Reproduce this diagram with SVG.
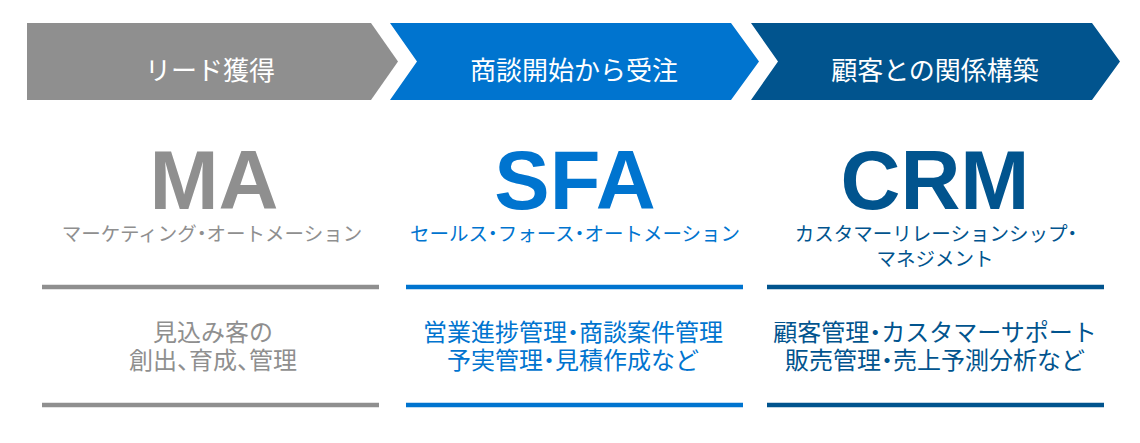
<svg xmlns="http://www.w3.org/2000/svg" width="1140" height="443" viewBox="0 0 1140 443">
<style>
.jp{font-family:"Noto Sans CJK JP","Noto Sans CJK SC",sans-serif;text-anchor:middle}
.hd{font-size:26px;fill:#ffffff}
.big{font-family:"Liberation Sans",Arial,sans-serif;font-weight:bold;font-size:83px;text-anchor:middle}
.sub{font-size:19.5px}
.body{font-size:24px}
.g{fill:#8f8f8f}
.b{fill:#0074cf}
.d{fill:#01548e}
.lg{stroke:#8f8f8f;stroke-width:4.5}
.lb{stroke:#0074cf;stroke-width:4.5}
.ld{stroke:#01548e;stroke-width:4.5}
</style>
<rect width="1140" height="443" fill="#ffffff"/>
<g id="stage-lead">
<polygon class="g" points="27,23 371,23 398,61.5 371,100 27,100"/>
<text class="jp hd" x="210" y="80">リード獲得</text>
</g>
<g id="stage-deal">
<polygon class="b" points="390,23 731,23 759,61.5 731,100 390,100 417,61.5"/>
<text class="jp hd" x="574" y="80">商談開始から受注</text>
</g>
<g id="stage-relation">
<polygon class="d" points="751,23 1092,23 1120,61.5 1092,100 751,100 778,61.5"/>
<text class="jp hd" x="935" y="80">顧客との関係構築</text>
</g>
<g id="ma">
<text class="big g" x="214" y="209">MA</text>
<text class="jp sub g" x="212" y="241" dx="0 0 0 0 0 0 0 -4.9 -4.9">マーケティング・オートメーション</text>
<line class="lg" x1="42" y1="287" x2="379" y2="287"/>
<text class="jp body g" x="213" y="341">見込み客の</text>
<text class="jp body g" x="213" y="369" dx="0 0 0 -12 0 0 -12">創出、育成、管理</text>
<line class="lg" x1="42" y1="405" x2="379" y2="405"/>
</g>
<g id="sfa">
<text class="big b" x="575" y="209">SFA</text>
<text class="jp sub b" x="575" y="241" dx="0 0 0 0 -4.9 -4.9 0 0 0 -4.9 -4.9">セールス・フォース・オートメーション</text>
<line class="lb" x1="406" y1="287" x2="743" y2="287"/>
<text class="jp body b" x="573" y="341" dx="0 0 0 0 0 0 -6 -6">営業進捗管理・商談案件管理</text>
<text class="jp body b" x="573" y="369" dx="0 0 0 0 -6 -6">予実管理・見積作成など</text>
<line class="lb" x1="406" y1="405" x2="743" y2="405"/>
</g>
<g id="crm">
<text class="big d" x="935" y="209">CRM</text>
<text class="jp sub d" x="938.4" y="241" dx="0 0 0 0 0 0 0 0 0 0 0 0 0 0 -4.9">カスタマーリレーションシップ・</text>
<text class="jp sub d" x="935" y="266">マネジメント</text>
<line class="ld" x1="767" y1="287" x2="1104" y2="287"/>
<text class="jp body d" x="935" y="341" dx="0 0 0 0 -6 -6">顧客管理・カスタマーサポート</text>
<text class="jp body d" x="935" y="369" dx="0 0 0 0 -6 -6">販売管理・売上予測分析など</text>
<line class="ld" x1="767" y1="405" x2="1104" y2="405"/>
</g>
<g id="connectors"></g>
</svg>
